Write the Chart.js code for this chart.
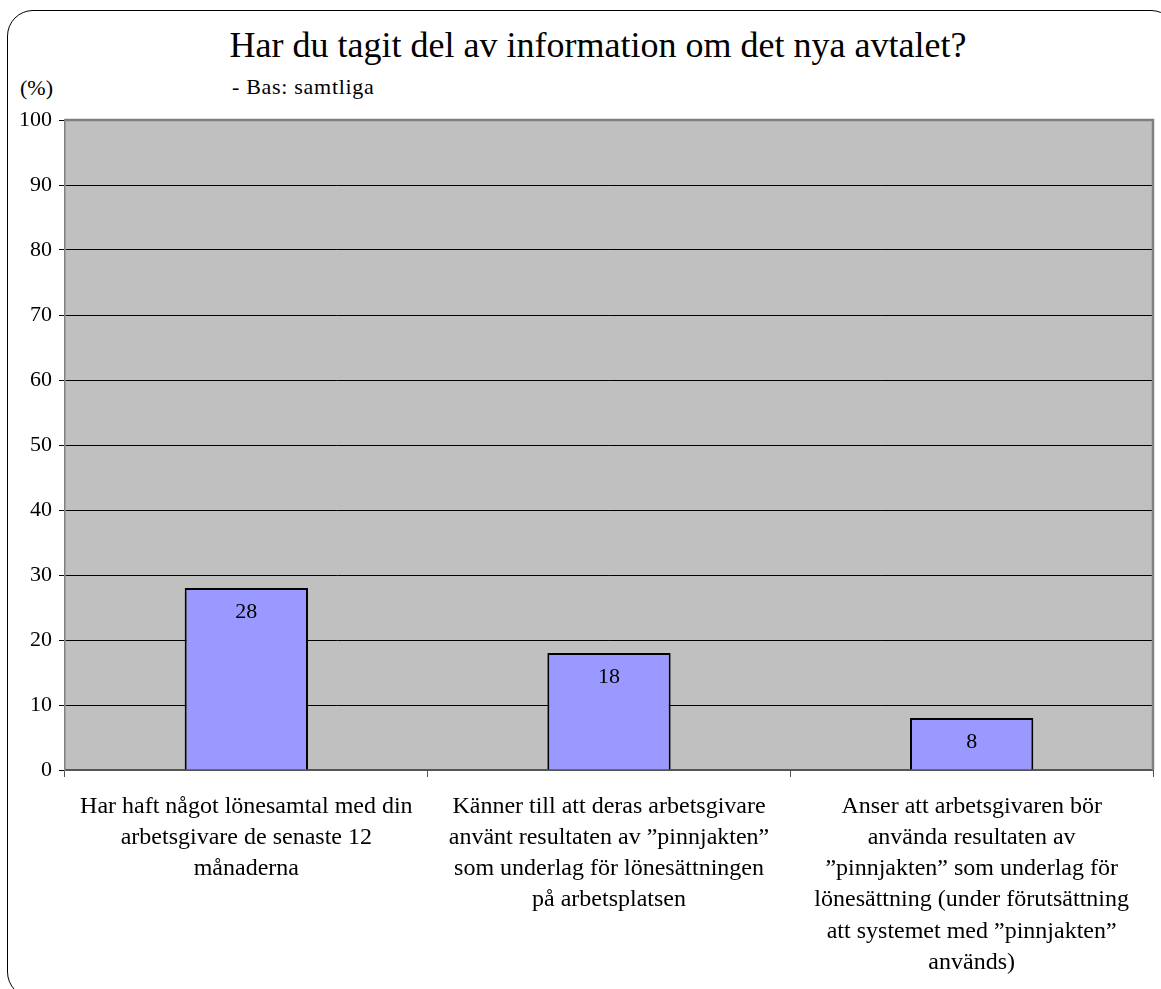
<!DOCTYPE html>
<html lang="sv">
<head>
    <meta charset="UTF-8">
    <title>Har du tagit del av information om det nya avtalet?</title>
    <style>
        body {
            margin: 0;
            width: 1161px;
            height: 989px;
            overflow: hidden;
            background: #fff;
            font-family: "Liberation Serif", "Times New Roman", serif;
            position: relative;
        }
        .frame {
            position: absolute;
            left: 7px;
            top: 10px;
            width: 1168px;
            height: 986px;
            border: 1.5px solid #000;
            border-radius: 26px;
        }
        .title {
            position: absolute;
            top: 24px;
            left: 0;
            width: 1196px;
            text-align: center;
            font-size: 36px;
        }
        .subtitle {
            position: absolute;
            left: 232px;
            top: 74px;
            font-size: 22px;
            letter-spacing: 0.7px;
        }
        .unit {
            position: absolute;
            left: 20px;
            top: 75px;
            font-size: 22px;
        }
        #chart {
            position: absolute;
            left: 0;
            top: 0;
        }
    </style>
    <script src="https://cdn.jsdelivr.net/npm/chart.js"></script>
</head>
<body>
    <div class="frame"></div>
    <div class="title">Har du tagit del av information om det nya avtalet?</div>
    <div class="subtitle">- Bas: samtliga</div>
    <div class="unit">(%)</div>
    <canvas id="chart" width="1161" height="989"></canvas>

    <script>
        const categories = [
            ['Har haft något lönesamtal med din', 'arbetsgivare de senaste 12', 'månaderna'],
            ['Känner till att deras arbetsgivare', 'använt resultaten av ”pinnjakten”', 'som underlag för lönesättningen', 'på arbetsplatsen'],
            ['Anser att arbetsgivaren bör', 'använda resultaten av', '”pinnjakten” som underlag för', 'lönesättning (under förutsättning', 'att systemet med ”pinnjakten”', 'används)']
        ];
        const values = [28, 18, 8];
        const yMin = 0;
        const yMax = 100;
        const yStep = 10;

        const serif = '"Liberation Serif", "Times New Roman", serif';

        // gray plot area with border
        const plotArea = {
            id: 'plotArea',
            beforeDraw(chart) {
                const { ctx, chartArea: a } = chart;
                ctx.save();
                ctx.fillStyle = '#c0c0c0';
                ctx.fillRect(a.left, a.top, a.right - a.left, a.bottom - a.top);
                ctx.restore();
            },
            afterDatasetsDraw(chart) {
                const { ctx, chartArea: a } = chart;
                ctx.save();
                ctx.strokeStyle = '#808080';
                ctx.lineWidth = 2.5;
                ctx.beginPath();
                ctx.moveTo(a.left, a.top);
                ctx.lineTo(a.right, a.top);
                ctx.lineTo(a.right, a.bottom);
                ctx.stroke();
                ctx.restore();
            }
        };

        // value labels inside top of each bar
        const barLabels = {
            id: 'barLabels',
            afterDatasetsDraw(chart) {
                const { ctx } = chart;
                const meta = chart.getDatasetMeta(0);
                ctx.save();
                ctx.font = '22px ' + serif;
                ctx.fillStyle = '#000';
                ctx.textAlign = 'center';
                ctx.textBaseline = 'middle';
                meta.data.forEach((bar, i) => {
                    ctx.fillText(values[i], bar.x, bar.y + 24);
                });
                ctx.restore();
            }
        };

        new Chart(document.getElementById('chart'), {
            type: 'bar',
            data: {
                labels: categories,
                datasets: [{
                    data: values,
                    backgroundColor: '#9999ff',
                    borderColor: '#000',
                    borderWidth: 2,
                    categoryPercentage: 1,
                    barPercentage: 0.34
                }]
            },
            options: {
                responsive: false,
                animation: false,
                layout: { padding: { top: 120, right: 8, left: 0, bottom: 0 } },
                plugins: {
                    legend: { display: false },
                    tooltip: { enabled: false }
                },
                scales: {
                    x: {
                        afterFit(scale) { scale.height = 219; },
                        grid: {
                            offset: true,
                            drawOnChartArea: false,
                            color: '#555',
                            tickLength: 7
                        },
                        border: { color: '#555', width: 2 },
                        ticks: {
                            color: '#000',
                            padding: 14,
                            maxRotation: 0,
                            autoSkip: false,
                            font: { family: serif, size: 24, lineHeight: 1.3 }
                        }
                    },
                    y: {
                        min: yMin,
                        max: yMax,
                        afterFit(scale) { scale.width = 65; },
                        grid: {
                            color: '#000',
                            tickLength: 6
                        },
                        border: { color: '#808080', width: 1.5 },
                        ticks: {
                            stepSize: yStep,
                            color: '#000',
                            padding: 7,
                            font: { family: serif, size: 22 }
                        }
                    }
                }
            },
            plugins: [plotArea, barLabels]
        });
    </script>
</body>
</html>
